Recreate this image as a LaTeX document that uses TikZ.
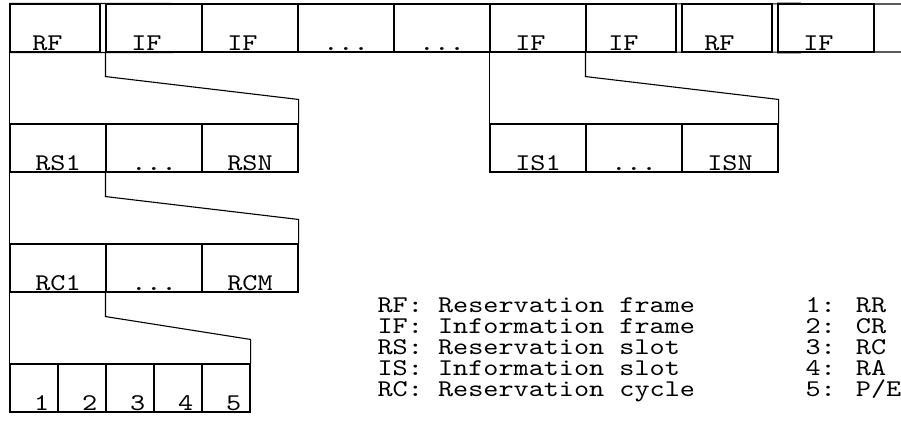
\documentclass[tikz,border=0pt]{standalone}
\usepackage{fontspec}
\newfontfamily\cour[FakeStretch=1.2]{lmmono10-regular.otf}
\usetikzlibrary{calc}
\begin{document}
\begin{tikzpicture}[x=1pt,y=-1pt,
  line width=1.1pt,
  cell/.style={draw, rectangle, inner sep=0pt, minimum height=48pt, minimum width=96pt},
  narrow/.style={minimum width=90pt},
  small/.style={minimum width=48pt},
  lbl/.style={inner sep=0pt, anchor=base, font=\cour\fontsize{24}{26}\selectfont},
  leg/.style={inner sep=0pt, anchor=base west, font=\cour\fontsize{24}{26}\selectfont}
]
\useasboundingbox (0,0) rectangle (901,423);
% top row
\node[cell,narrow] (t1) at (55,28) {};
\node[cell] (t2) at (154,28) {};
\node[cell] (t3) at (250,28) {};
\node[cell] (t4) at (346,28) {};
\node[cell] (t5) at (442,28) {};
\node[cell] (t6) at (538,28) {};
\node[cell,narrow] (t7) at (631,28) {};
\node[cell,narrow] (t8) at (727,28) {};
\node[cell] (t9) at (826,28) {};
\coordinate (tr) at (901,4);
\coordinate (br) at (901,52);
\draw (t1.north west) -- (tr);
\draw (t1.south west) -- (br);
\draw[gray!70, line width=1.4pt] ($(t9.north west)+(0,-0.8)$) -- ($(t9.north west)+(24,-0.8)$);
\draw[gray!70, line width=1.4pt] ($(t9.south west)+(0,0.8)$) -- ($(t9.south west)+(24,0.8)$);
\node[lbl] (t1l) at ($(t1.south)+(0,-2.5)$) {RF\phantom{X}};
\node[lbl] (t2l) at ($(t2.south)+(0,-2.5)$) {IF\phantom{X}};
\node[lbl] (t3l) at ($(t3.south)+(0,-2.5)$) {IF\phantom{X}};
\node[lbl] (t4l) at ($(t4.south)+(0,-2.5)$) {.{}.{}.};
\node[lbl] (t5l) at ($(t5.south)+(0,-2.5)$) {.{}.{}.};
\node[lbl] (t6l) at ($(t6.south)+(0,-2.5)$) {IF\phantom{X}};
\node[lbl] (t7l) at ($(t7.south)+(0,-2.5)$) {IF\phantom{X}};
\node[lbl] (t8l) at ($(t8.south)+(0,-2.5)$) {RF\phantom{X}};
\node[lbl] (t9l) at ($(t9.south)+(0,-2.5)$) {IF\phantom{X}};
% reservation slots
\node[cell] (s1) at (58,148) {};
\node[cell] (s2) at (154,148) {};
\node[cell] (s3) at (250,148) {};
\node[lbl] (s1l) at ($(s1.south)+(0,-2.5)$) {RS1};
\node[lbl] (s2l) at ($(s2.south)+(0,-2.5)$) {.{}.{}.};
\node[lbl] (s3l) at ($(s3.south)+(0,-2.5)$) {RSN};
% information slots
\node[cell] (i1) at (538,148) {};
\node[cell] (i2) at (634,148) {};
\node[cell] (i3) at (730,148) {};
\node[lbl] (i1l) at ($(i1.south)+(0,-2.5)$) {IS1};
\node[lbl] (i2l) at ($(i2.south)+(0,-2.5)$) {.{}.{}.};
\node[lbl] (i3l) at ($(i3.south)+(0,-2.5)$) {ISN};
% reservation cycles
\node[cell] (r1) at (58,268) {};
\node[cell] (r2) at (154,268) {};
\node[cell] (r3) at (250,268) {};
\node[lbl] (r1l) at ($(r1.south)+(0,-2.5)$) {RC1};
\node[lbl] (r2l) at ($(r2.south)+(0,-2.5)$) {.{}.{}.};
\node[lbl] (r3l) at ($(r3.south)+(0,-2.5)$) {RCM};
% fields
\node[cell,small] (d1) at (34,388) {};
\node[cell,small] (d2) at (82,388) {};
\node[cell,small] (d3) at (130,388) {};
\node[cell,small] (d4) at (178,388) {};
\node[cell,small] (d5) at (226,388) {};
\node[lbl] (d1l) at ($(d1.south)+(0,-2.5)$) {\phantom{X}1};
\node[lbl] (d2l) at ($(d2.south)+(0,-2.5)$) {\phantom{X}2};
\node[lbl] (d3l) at ($(d3.south)+(0,-2.5)$) {\phantom{X}3};
\node[lbl] (d4l) at ($(d4.south)+(0,-2.5)$) {\phantom{X}4};
\node[lbl] (d5l) at ($(d5.south)+(0,-2.5)$) {\phantom{X}5};
% expansion brackets
\draw (t1.south west) -- (d1.south west);
\draw (t2.south west) -- ++(0,24) -- ($(s3.north east)+(0,-24)$) -- (s3.north east);
\draw (t6.south west) -- (i1.north west);
\draw (t7.south west) -- ++(0,24) -- ($(i3.north east)+(0,-24)$) -- (i3.north east);
\draw (s2.south west) -- ++(0,24) -- ($(r3.north east)+(0,-24)$) -- (r3.north east);
\draw (r2.south west) -- ++(0,24) -- ($(d5.north east)+(0,-24)$) -- (d5.north east);
% legend
\node[leg] (l1) at (377,312) {RF: Reservation frame};
\node[leg] (l2) at (377,333) {IF: Information frame};
\node[leg] (l3) at (377,354) {RS: Reservation slot};
\node[leg] (l4) at (377,375) {IS: Information slot};
\node[leg] (l5) at (377,396) {RC: Reservation cycle};
\node[leg] (k1) at (805,312) {1: RR};
\node[leg] (k2) at (805,333) {2: CR};
\node[leg] (k3) at (805,354) {3: RC};
\node[leg] (k4) at (805,375) {4: RA};
\node[leg] (k5) at (805,396) {5: P/E};
\end{tikzpicture}
\end{document}
